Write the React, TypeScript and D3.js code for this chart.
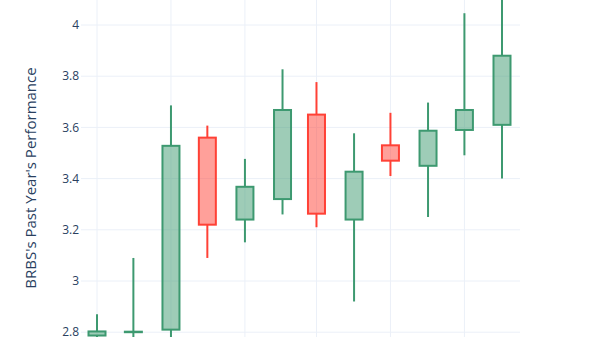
import React from "react";
import * as d3 from "d3";

const dates = ["2022-09-01","2022-10-01","2022-11-01","2022-12-01","2023-01-01","2023-02-01","2023-03-01","2023-04-01","2023-05-01","2023-06-01","2023-07-01","2023-08-01"];
const opens = [2.787, 2.8, 2.81, 3.56, 3.24, 3.32, 3.65, 3.24, 3.53, 3.45, 3.59, 3.61];
const highs = [2.87, 3.09, 3.686, 3.607, 3.477, 3.827, 3.777, 3.577, 3.657, 3.697, 4.046, 4.15];
const lows = [2.74, 2.76, 2.75, 3.09, 3.151, 3.26, 3.21, 2.92, 3.41, 3.25, 3.491, 3.40];
const closes = [2.803, 2.802, 3.528, 3.22, 3.368, 3.668, 3.263, 3.427, 3.47, 3.587, 3.668, 3.88];
const yTicks = [2.8, 3, 3.2, 3.4, 3.6, 3.8, 4];
const gridDates = ["2022-09-01","2022-11-01","2023-01-01","2023-03-01","2023-05-01","2023-07-01"];

const W = 600, H = 337;
const plotLeft = 81, plotRight = 520, plotTop = 0, plotBottom = 337;

export default function App() {
  const parse = (s: string) => new Date(s + "T00:00:00Z");
  const x = d3.scaleUtc().domain([parse(dates[0]), parse(dates[dates.length - 1])]).range([97, 502]);
  const y = d3.scaleLinear().domain([2.8, 4]).range([332.2, 25]);
  const up = "#3D9970", down = "#FF4136";
  const bodyW = 17;
  const font = "'Open Sans', sans-serif";
  return (
    <svg width={W} height={H} style={{ position: "absolute", left: 0, top: 0, background: "#fff" }}>
      <defs>
        <clipPath id="plotclip">
          <rect x={plotLeft} y={plotTop} width={plotRight - plotLeft} height={plotBottom - plotTop} />
        </clipPath>
      </defs>
      <g>
        {gridDates.map((d) => (
          <line key={d} x1={x(parse(d))} x2={x(parse(d))} y1={plotTop} y2={plotBottom} stroke="#EBF0F8" strokeWidth={1} />
        ))}
        {yTicks.map((t) => (
          <line key={t} x1={plotLeft} x2={plotRight} y1={y(t)} y2={y(t)} stroke="#EBF0F8" strokeWidth={1} />
        ))}
      </g>
      <g clipPath="url(#plotclip)">
        {dates.map((d, i) => {
          const cx = x(parse(d));
          const o = opens[i], c = closes[i];
          const isUp = c >= o;
          const col = isUp ? up : down;
          const top = y(Math.max(o, c));
          const bot = y(Math.min(o, c));
          return (
            <g key={d}>
              <line x1={cx} x2={cx} y1={y(highs[i])} y2={top} stroke={col} strokeWidth={2} />
              <line x1={cx} x2={cx} y1={bot} y2={y(lows[i])} stroke={col} strokeWidth={2} />
              <rect x={cx - bodyW / 2} y={top} width={bodyW} height={Math.max(bot - top, 0.5)}
                fill={col} fillOpacity={0.5} stroke={col} strokeWidth={2} />
            </g>
          );
        })}
      </g>
      <g fontFamily={font} fontSize={12} fill="#2a3f5f">
        {yTicks.map((t) => (
          <text key={t} x={79} y={y(t)} dy="0.35em" textAnchor="end">{d3.format("~g")(t)}</text>
        ))}
      </g>
      <text transform={`translate(36,178) rotate(-90)`} textAnchor="middle" fontFamily={font} fontSize={15} fill="#2a3f5f">
        BRBS's Past Year's Performance
      </text>
    </svg>
  );
}
